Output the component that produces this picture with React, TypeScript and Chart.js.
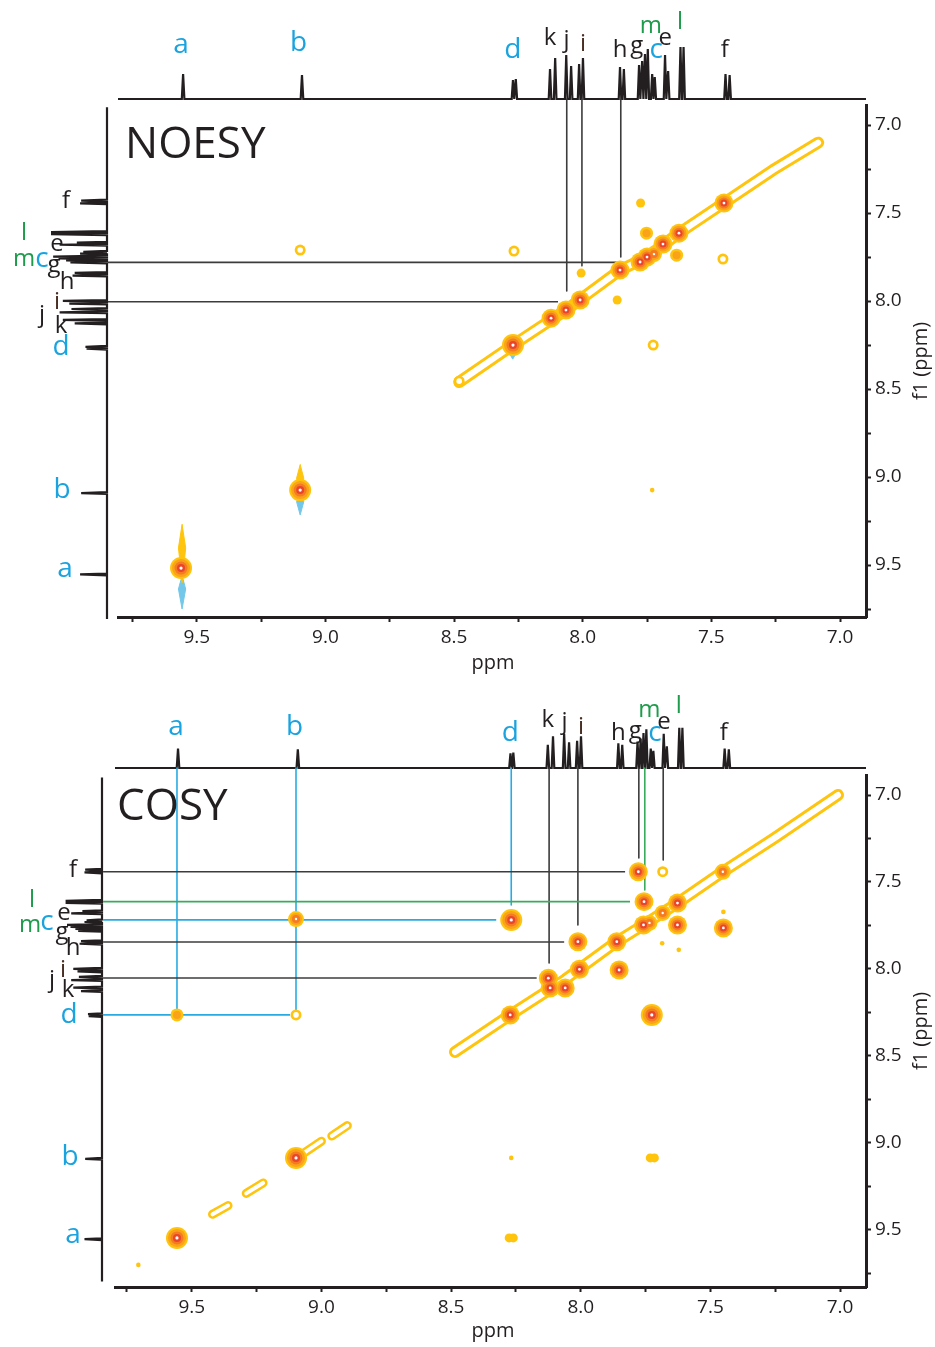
import React, { useEffect, useRef } from 'react';
import { Chart, registerables } from 'chart.js';

Chart.register(...registerables);

const W = 935;
const FONT = "'Open Sans', 'Noto Sans', 'DejaVu Sans', sans-serif";
const INK = '#231F20';
const BLUE = '#1AA3DF';
const GREEN = '#1E9B4B';
const BROWN = '#4A2E22';
const YEL = '#FFC40D';
const ORG = '#FBA21B';
const ORG2 = '#F47B20';
const RED = '#E8452A';
const CYAN = '#73C7E8';
const GUIDE_BLACK = '#3C3C3C';
const GUIDE_BLUE = '#29ABE2';
const GUIDE_GREEN = '#3AAA5C';

// ---- 1H spectrum (projection): line positions (ppm) and heights ----
const specPpm = [9.553, 9.091, 8.271, 8.260, 8.127, 8.107, 8.064, 8.045, 8.014, 7.999, 7.855, 7.840, 7.781, 7.769, 7.758, 7.747, 7.730, 7.720, 7.680, 7.668, 7.620, 7.608, 7.445, 7.429];
const specHeight = [25, 24, 19, 20, 30, 41, 44, 33, 35, 41, 32, 30, 34, 38, 45, 50, 25, 22, 44, 28, 52, 52, 25, 24];

// ---- assignment labels ----
const labelText = ['a', 'b', 'd', 'k', 'j', 'i', 'h', 'g', 'm', 'c', 'e', 'l', 'f'];
const labelColor = [BLUE, BLUE, BLUE, INK, INK, BROWN, INK, INK, GREEN, BLUE, INK, GREEN, INK];
const topLabelPpm = [9.561, 9.104, 8.272, 8.127, 8.063, 7.999, 7.855, 7.790, 7.735, 7.714, 7.679, 7.622, 7.448];

// NOESY label placement
const noesyTopLabelY = [45, 43, 50, 38, 40, 44, 50, 46, 26, 50, 38, 22, 50];
const noesyLeftLabelX = [65, 62, 61, 61, 42, 57, 67, 54, 24, 42, 57, 24, 66];
const noesyLeftLabelPpm = [9.523, 9.074, 8.261, 8.142, 8.080, 8.006, 7.892, 7.795, 7.761, 7.761, 7.676, 7.614, 7.432];
// COSY label placement
const cosyTopLabelY = [57, 57, 63, 50, 52, 57, 63, 61, 40, 63, 52, 36, 63];
const cosyLeftLabelX = [73, 70, 69, 68, 52, 63, 73, 62, 30, 47, 64, 32, 73];
const cosyLeftLabelPpm = [9.529, 9.080, 8.264, 8.121, 8.063, 8.006, 7.879, 7.787, 7.747, 7.730, 7.678, 7.603, 7.431];

// ---- NOESY cross peaks (f2 ppm, f1 ppm, contour level) ----
const noesyPeakX = [9.561, 9.098, 8.271, 8.123, 8.065, 8.010, 7.855, 7.777, 7.750, 7.723, 7.688, 7.626, 7.451, 9.098, 8.267, 8.006, 7.866, 7.775, 7.752, 7.635, 7.455, 7.726, 7.730, 8.480];
const noesyPeakY = [9.517, 9.074, 8.250, 8.097, 8.051, 7.994, 7.824, 7.778, 7.750, 7.733, 7.676, 7.614, 7.443, 7.710, 7.716, 7.841, 7.994, 7.443, 7.614, 7.739, 7.761, 8.250, 9.074, 8.455];
const noesyPeakLevel = [6, 6, 6, 5, 5, 5, 5, 5, 5, 4, 5, 5, 5, 2, 2, 1, 1, 1, 3, 3, 2, 2, 0, 2];
// NOESY diagonal ridge
const noesyRidgeX = [8.48, 8.271, 8.065, 7.855, 7.750, 7.626, 7.451, 7.26, 7.085];
const noesyRidgeY = [8.46, 8.250, 8.051, 7.824, 7.750, 7.614, 7.443, 7.255, 7.10];
// NOESY t1 streaks (positive = yellow, negative = cyan)
const noesyStreakX = [9.557, 9.098, 9.557, 9.098, 8.272];
const noesyStreakFrom = [9.27, 8.93, 9.56, 9.09, 8.27];
const noesyStreakTo = [9.60, 9.12, 9.75, 9.215, 8.33];
const noesyStreakSign = [1, 1, -1, -1, -1];
// NOESY guide lines
const noesyVGuideX = [8.062, 8.003, 7.852];
const noesyVGuideEnd = [7.943, 7.80, 7.75];
const noesyVGuideColor = [GUIDE_BLACK, GUIDE_BLACK, GUIDE_BLACK];
const noesyHGuideY = [7.78, 8.004];
const noesyHGuideEnd = [7.868, 8.096];
const noesyHGuideColor = [GUIDE_BLACK, GUIDE_BLACK];

// ---- COSY cross peaks ----
const cosyPeakX = [9.557, 9.098, 8.272, 8.125, 8.118, 8.060, 8.005, 8.011, 7.861, 7.852, 7.778, 7.684, 7.452, 7.756, 7.627, 7.684, 7.758, 7.735, 7.627, 7.450, 7.450, 7.726, 8.268, 9.557, 9.098, 9.098, 8.268, 8.276, 8.260, 7.732, 7.716, 9.706, 7.686, 7.622];
const cosyPeakY = [9.546, 9.086, 8.264, 8.053, 8.109, 8.109, 8.002, 7.843, 7.843, 8.006, 7.441, 7.441, 7.441, 7.613, 7.621, 7.678, 7.747, 7.735, 7.747, 7.764, 7.672, 8.264, 7.718, 8.264, 8.264, 7.713, 9.086, 9.546, 9.546, 9.086, 9.086, 9.701, 7.852, 7.890];
const cosyPeakLevel = [6, 6, 5, 5, 5, 5, 5, 5, 5, 5, 5, 2, 4, 5, 5, 4, 5, 4, 5, 5, 0, 6, 6, 3, 2, 4, 0, 1, 1, 1, 1, 0, 0, 0];
// COSY diagonal ridge and diagonal fragments
const cosyRidgeX = [8.485, 8.272, 8.06, 7.861, 7.758, 7.627, 7.452, 7.25, 7.008];
const cosyRidgeY = [8.477, 8.264, 8.06, 7.843, 7.747, 7.621, 7.441, 7.245, 7.0];
const cosyFragX1 = [9.42, 9.29, 9.07, 8.96];
const cosyFragY1 = [9.41, 9.29, 9.06, 8.96];
const cosyFragX2 = [9.36, 9.225, 9.0, 8.9];
const cosyFragY2 = [9.36, 9.23, 8.99, 8.9];
// COSY guide lines
const cosyVGuideX = [9.557, 9.098, 8.268, 8.122, 8.011, 7.776, 7.753, 7.682];
const cosyVGuideEnd = [8.24, 8.24, 7.632, 7.966, 7.747, 7.362, 7.546, 7.374];
const cosyVGuideColor = [GUIDE_BLUE, GUIDE_BLUE, GUIDE_BLUE, GUIDE_BLACK, GUIDE_BLACK, GUIDE_BLACK, GUIDE_GREEN, GUIDE_BLACK];
const cosyHGuideY = [7.441, 7.613, 7.718, 7.845, 8.052, 8.264];
const cosyHGuideEnd = [7.829, 7.81, 8.326, 8.064, 8.17, 9.121];
const cosyHGuideColor = [GUIDE_BLACK, GUIDE_GREEN, GUIDE_BLUE, GUIDE_BLACK, GUIDE_BLACK, GUIDE_BLUE];

// contour rings: yellow, orange, orange-red, red, white core (radius per level)
const ringColors = [YEL, ORG, ORG2, RED, '#FFFFFF'];
const ringRadius = [
  [2.3, 0, 0, 0, 0],
  [4.5, 0, 0, 0, 0],
  [5.5, 0, 0, 0, 2.8],
  [6.5, 4, 0, 0, 0],
  [8, 6, 4, 0, 1.2],
  [9.5, 7.5, 5.5, 3.5, 1.4],
  [11, 9, 6.5, 4, 1.6],
];

const PANELS = [
  {
    key: 'noesy', title: 'NOESY', top: 0, h: 680,
    mainLeft: 118, mainRight: 866, mainTop: 105, mainBottom: 617,
    specBase: 99, leftBase: 107,
    xMin: 6.899, xMax: 9.806, yMin: 6.886, yMax: 9.795,
    topMax: 62, leftMax: 65,
    titleX: 125, titleY: 158, ppmX: 493, ppmY: 663, f1X: 921,
    guideTop: 6.852, guideLeft: 9.845,
    topLabelY: noesyTopLabelY, leftLabelX: noesyLeftLabelX, leftLabelPpm: noesyLeftLabelPpm,
    peakX: noesyPeakX, peakY: noesyPeakY, peakLevel: noesyPeakLevel,
    ridgeX: noesyRidgeX, ridgeY: noesyRidgeY,
    fragX1: [] as number[], fragY1: [] as number[], fragX2: [] as number[], fragY2: [] as number[],
    streakX: noesyStreakX, streakFrom: noesyStreakFrom, streakTo: noesyStreakTo, streakSign: noesyStreakSign,
    vGuideX: noesyVGuideX, vGuideEnd: noesyVGuideEnd, vGuideColor: noesyVGuideColor,
    hGuideY: noesyHGuideY, hGuideEnd: noesyHGuideEnd, hGuideColor: noesyHGuideColor,
  },
  {
    key: 'cosy', title: 'COSY', top: 670, h: 677,
    mainLeft: 115, mainRight: 866, mainTop: 105, mainBottom: 617,
    specBase: 98, leftBase: 102,
    xMin: 6.900, xMax: 9.796, yMin: 6.885, yMax: 9.828,
    topMax: 80, leftMax: 100,
    titleX: 117, titleY: 150, ppmX: 493, ppmY: 661, f1X: 921,
    guideTop: 6.845, guideLeft: 9.842,
    topLabelY: cosyTopLabelY, leftLabelX: cosyLeftLabelX, leftLabelPpm: cosyLeftLabelPpm,
    peakX: cosyPeakX, peakY: cosyPeakY, peakLevel: cosyPeakLevel,
    ridgeX: cosyRidgeX, ridgeY: cosyRidgeY,
    fragX1: cosyFragX1, fragY1: cosyFragY1, fragX2: cosyFragX2, fragY2: cosyFragY2,
    streakX: [] as number[], streakFrom: [] as number[], streakTo: [] as number[], streakSign: [] as number[],
    vGuideX: cosyVGuideX, vGuideEnd: cosyVGuideEnd, vGuideColor: cosyVGuideColor,
    hGuideY: cosyHGuideY, hGuideEnd: cosyHGuideEnd, hGuideColor: cosyHGuideColor,
  },
];

// spectrum trace: baseline with a narrow line at each listed position
function buildTrace(lo: number, hi: number) {
  const hw = 0.005;
  const pts: { p: number; v: number }[] = [{ p: hi, v: 0 }];
  specPpm.forEach((p, i) => {
    pts.push({ p: p + hw, v: 0 }, { p, v: specHeight[i] }, { p: p - hw, v: 0 });
  });
  pts.push({ p: lo, v: 0 });
  return pts;
}

const tickFmt = (v: any) => {
  const n = Number(v);
  return Math.abs(n * 2 - Math.round(n * 2)) < 1e-6 ? n.toFixed(1) : '';
};

const baseOpts = {
  responsive: false,
  animation: false as const,
  devicePixelRatio: 1,
  events: [] as any[],
  plugins: { legend: { display: false }, tooltip: { enabled: false } },
};

function lineDs(points: any[], color: string, width: number, extra: any = {}) {
  return {
    data: points, showLine: true, borderColor: color, backgroundColor: color,
    borderWidth: width, pointRadius: 0, pointHoverRadius: 0, tension: 0, clip: false,
    borderCapStyle: 'round', borderJoinStyle: 'round', fill: false, ...extra,
  };
}

function Panel({ cfg }: { cfg: any }) {
  const topRef = useRef<HTMLCanvasElement>(null);
  const leftRef = useRef<HTMLCanvasElement>(null);
  const mainRef = useRef<HTMLCanvasElement>(null);

  useEffect(() => {
    const charts: Chart[] = [];
    const trace = buildTrace(cfg.xMin, cfg.xMax);

    // top projection
    charts.push(new Chart(topRef.current as HTMLCanvasElement, {
      type: 'scatter',
      data: { datasets: [lineDs(trace.map((t) => ({ x: t.p, y: t.v })), INK, 2.2, { borderCapStyle: 'butt', borderJoinStyle: 'miter' })] },
      options: {
        ...baseOpts,
        layout: { padding: { left: cfg.mainLeft, right: W - cfg.mainRight, top: cfg.specBase - 62, bottom: cfg.h - cfg.specBase } },
        scales: {
          x: { type: 'linear', display: false, reverse: true, min: cfg.xMin, max: cfg.xMax },
          y: { type: 'linear', display: false, min: 0, max: cfg.topMax },
        },
      } as any,
    }));

    // left projection
    charts.push(new Chart(leftRef.current as HTMLCanvasElement, {
      type: 'scatter',
      data: { datasets: [lineDs(trace.map((t) => ({ x: t.v, y: t.p })), INK, 2.2, { borderCapStyle: 'butt', borderJoinStyle: 'miter' })] },
      options: {
        ...baseOpts,
        layout: { padding: { left: cfg.leftBase - 70, right: W - cfg.leftBase, top: cfg.mainTop, bottom: cfg.h - cfg.mainBottom } },
        scales: {
          x: { type: 'linear', display: false, reverse: true, min: 0, max: cfg.leftMax },
          y: { type: 'linear', display: false, reverse: true, min: cfg.yMin, max: cfg.yMax },
        },
      } as any,
    }));

    // 2D map
    const layers: any[] = [];
    const ridge = cfg.ridgeX.map((x: number, i: number) => ({ x, y: cfg.ridgeY[i] }));
    layers.push(lineDs(ridge, YEL, 12));
    cfg.fragX1.forEach((x: number, i: number) => {
      layers.push(lineDs([{ x, y: cfg.fragY1[i] }, { x: cfg.fragX2[i], y: cfg.fragY2[i] }], YEL, 9));
    });
    layers.push(lineDs(ridge, '#FFFFFF', 6));
    cfg.fragX1.forEach((x: number, i: number) => {
      layers.push(lineDs([{ x, y: cfg.fragY1[i] }, { x: cfg.fragX2[i], y: cfg.fragY2[i] }], '#FFFFFF', 4));
    });
    // streaks (negative first so positive sits on top)
    const streakOrder = cfg.streakX.map((_: any, i: number) => i).sort((a: number, b: number) => cfg.streakSign[a] - cfg.streakSign[b]);
    streakOrder.forEach((i: number) => {
      const x = cfg.streakX[i];
      const f = cfg.streakFrom[i];
      const t = cfg.streakTo[i];
      const m = f + (t - f) * 0.4;
      const hw = 0.014;
      const col = cfg.streakSign[i] > 0 ? YEL : CYAN;
      layers.push(lineDs([{ x, y: f }, { x: x - hw, y: m }, { x, y: t }, { x: x + hw, y: m }, { x, y: f }], col, 1, { fill: 'shape' }));
    });
    // guide lines
    cfg.vGuideX.forEach((x: number, i: number) => {
      layers.push(lineDs([{ x, y: cfg.guideTop }, { x, y: cfg.vGuideEnd[i] }], cfg.vGuideColor[i], 1.6, { borderCapStyle: 'butt' }));
    });
    cfg.hGuideY.forEach((y: number, i: number) => {
      layers.push(lineDs([{ x: cfg.guideLeft, y }, { x: cfg.hGuideEnd[i], y }], cfg.hGuideColor[i], 1.6, { borderCapStyle: 'butt' }));
    });
    // contour rings
    const peaks = cfg.peakX.map((x: number, i: number) => ({ x, y: cfg.peakY[i], l: cfg.peakLevel[i] }));
    ringColors.forEach((col, ring) => {
      layers.push({
        data: peaks, showLine: false,
        pointRadius: (c: any) => (c.raw ? ringRadius[c.raw.l][ring] : 0),
        pointHoverRadius: (c: any) => (c.raw ? ringRadius[c.raw.l][ring] : 0),
        pointBackgroundColor: col, pointBorderColor: 'rgba(0,0,0,0)', pointBorderWidth: 0,
        clip: false,
      });
    });

    const decor = {
      id: 'decor',
      afterDraw(chart: any) {
        const { ctx, scales } = chart;
        const sx = scales.x;
        const sy = scales.y;
        ctx.save();
        ctx.fillStyle = INK;
        ctx.font = `44px ${FONT}`;
        ctx.textAlign = 'left';
        ctx.textBaseline = 'alphabetic';
        ctx.fillText(cfg.title, cfg.titleX, cfg.titleY);
        ctx.textAlign = 'center';
        ctx.textBaseline = 'middle';
        labelText.forEach((t, i) => {
          ctx.fillStyle = labelColor[i];
          ctx.font = `${labelColor[i] === BLUE ? 28 : 24}px ${FONT}`;
          ctx.fillText(t, sx.getPixelForValue(topLabelPpm[i]), cfg.topLabelY[i]);
          ctx.fillText(t, cfg.leftLabelX[i], sy.getPixelForValue(cfg.leftLabelPpm[i]));
        });
        ctx.fillStyle = INK;
        ctx.font = `20px ${FONT}`;
        ctx.fillText('ppm', cfg.ppmX, cfg.ppmY);
        ctx.translate(cfg.f1X, (chart.chartArea.top + chart.chartArea.bottom) / 2);
        ctx.rotate(-Math.PI / 2);
        ctx.fillText('f1 (ppm)', 0, 0);
        ctx.restore();
      },
    };

    const axisCommon = {
      type: 'linear',
      reverse: true,
      border: { display: true, color: INK, width: 3 },
      grid: { display: true, drawOnChartArea: false, drawTicks: true, tickLength: 5, color: INK, tickColor: INK, tickWidth: 2 },
      ticks: {
        stepSize: 0.25, includeBounds: false, autoSkip: false, maxRotation: 0, minRotation: 0,
        padding: 4, color: INK, font: { family: FONT, size: 19 }, callback: tickFmt,
      },
    };

    charts.push(new Chart(mainRef.current as HTMLCanvasElement, {
      type: 'scatter',
      data: { datasets: layers.slice().reverse() },
      options: {
        ...baseOpts,
        layout: { padding: { left: cfg.mainLeft, top: cfg.mainTop, right: 0, bottom: 0 } },
        scales: {
          x: {
            ...axisCommon, position: 'bottom', min: cfg.xMin, max: cfg.xMax,
            afterFit: (s: any) => { s.height = cfg.h - cfg.mainBottom; },
          },
          y: {
            ...axisCommon, position: 'right', min: cfg.yMin, max: cfg.yMax,
            afterFit: (s: any) => { s.width = W - cfg.mainRight; },
          },
        },
      } as any,
      plugins: [decor],
    }));

    return () => charts.forEach((c) => c.destroy());
  }, [cfg]);

  const cs: React.CSSProperties = { position: 'absolute', left: 0, top: 0 };
  return (
    <div style={{ position: 'absolute', left: 0, top: cfg.top, width: W, height: cfg.h }}>
      <canvas ref={topRef} width={W} height={cfg.h} style={cs} />
      <canvas ref={leftRef} width={W} height={cfg.h} style={cs} />
      <canvas ref={mainRef} width={W} height={cfg.h} style={cs} />
    </div>
  );
}

export default function App() {
  return (
    <div style={{ position: 'absolute', left: 0, top: 0, width: W, height: 1347, background: '#FFFFFF', overflow: 'hidden' }}>
      {PANELS.map((p) => (
        <Panel key={p.key} cfg={p} />
      ))}
    </div>
  );
}
